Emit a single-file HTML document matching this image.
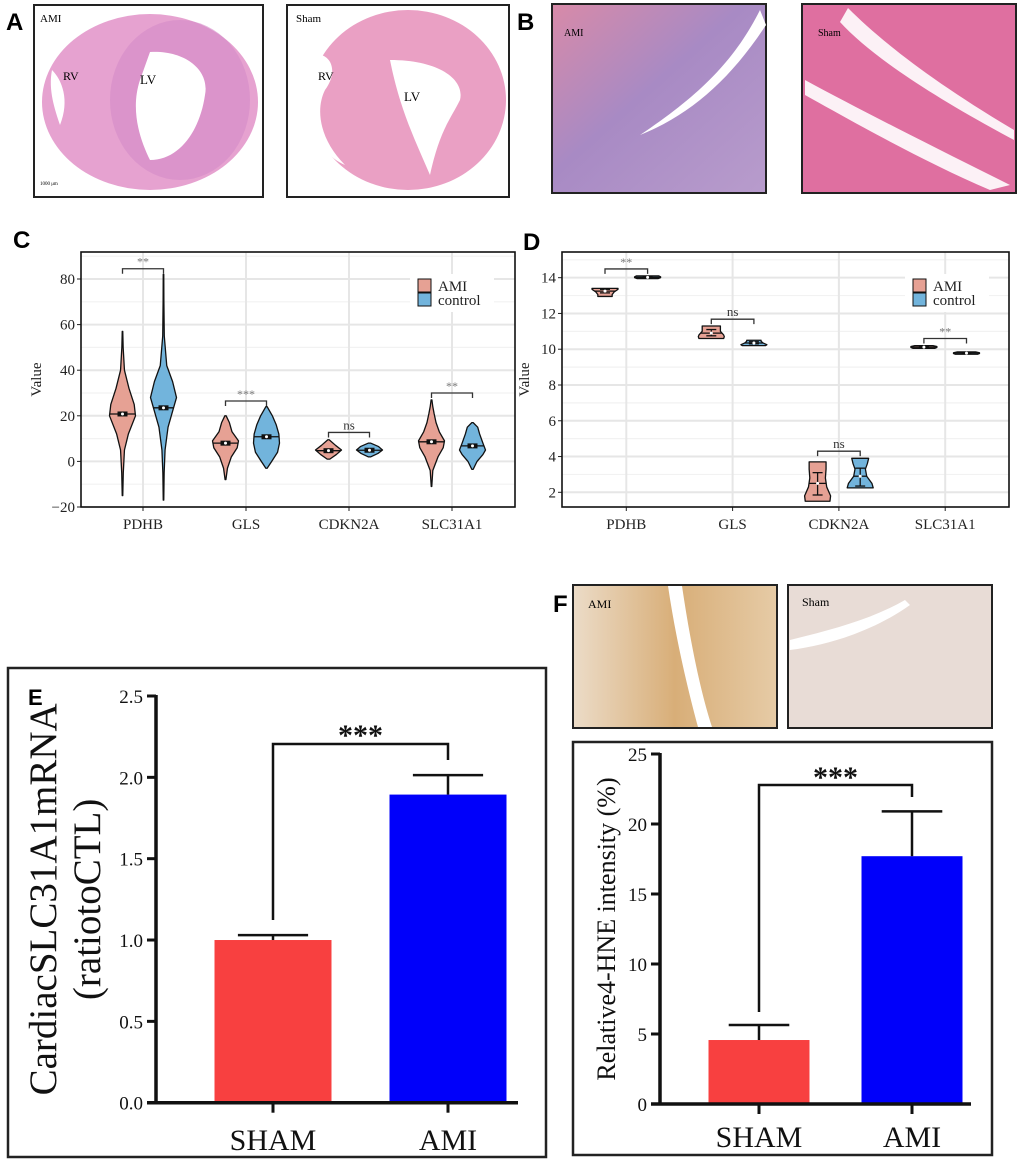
<!DOCTYPE html>
<html><head><meta charset="utf-8"><style>
html,body{margin:0;padding:0;background:#fff}
svg{display:block}
text{font-family:"Liberation Serif",serif}
.lbl{font-family:"Liberation Sans",sans-serif;font-weight:bold}
</style></head><body>
<svg id="fig" width="1020" height="1167" viewBox="0 0 1020 1167" xmlns="http://www.w3.org/2000/svg">
<defs>
<linearGradient id="gB1" x1="0" y1="0" x2="1" y2="1"><stop offset="0" stop-color="#d88aa8"/><stop offset="0.45" stop-color="#a88ac4"/><stop offset="1" stop-color="#b89ccc"/></linearGradient>
<linearGradient id="gF1" x1="0" y1="0" x2="1" y2="0"><stop offset="0" stop-color="#ecdcc8"/><stop offset="0.5" stop-color="#d8ae78"/><stop offset="1" stop-color="#e6cba6"/></linearGradient>
</defs>

<!-- Panel A -->
<g>
<text class="lbl" x="6" y="30" font-size="24">A</text>
<rect x="34" y="5" width="229" height="192" fill="#fff" stroke="#222" stroke-width="2"/>
<ellipse cx="150" cy="102" rx="108" ry="88" fill="#e6a2d0"/>
<ellipse cx="180" cy="100" rx="70" ry="80" fill="#d48ac8" opacity="0.6"/>
<path d="M150 52 C185 50 210 70 205 95 C200 130 180 160 150 160 C140 140 130 110 140 80 Z" fill="#fff"/>
<path d="M52 70 C62 80 70 100 60 125 C55 110 48 90 52 70Z" fill="#fff"/>
<text x="40" y="22" font-size="11">AMI</text>
<text x="63" y="80" font-size="12">RV</text>
<text x="140" y="84" font-size="13">LV</text>
<text x="40" y="185" font-size="5">1000 μm</text>

<rect x="287" y="5" width="222" height="192" fill="#fff" stroke="#222" stroke-width="2"/>
<ellipse cx="408" cy="100" rx="98" ry="90" fill="#eaa0c4"/>
<path d="M390 60 C440 60 465 80 460 100 C450 120 440 130 430 175 C415 140 400 110 390 60Z" fill="#fff"/>
<path d="M310 55 C330 50 340 70 325 90 C315 110 320 140 345 165 C310 150 300 100 310 55Z" fill="#fff"/>
<text x="296" y="22" font-size="11">Sham</text>
<text x="318" y="80" font-size="12">RV</text>
<text x="404" y="101" font-size="13">LV</text>
</g>

<!-- Panel B -->
<g>
<text class="lbl" x="517" y="30" font-size="24">B</text>
<rect x="552" y="4" width="214" height="189" fill="url(#gB1)" stroke="#222" stroke-width="2"/>
<path d="M760 10 L766 25 C730 80 690 115 640 135 C700 95 735 60 760 10Z" fill="#fff"/>
<text x="564" y="36" font-size="10">AMI</text>
<rect x="802" y="4" width="214" height="189" fill="#df6fa0" stroke="#222" stroke-width="2"/>
<path d="M848 8 C880 40 930 80 1014 130 L1014 140 C930 95 870 55 840 22Z" fill="#fff" opacity="0.9"/>
<path d="M805 80 C860 110 940 150 1010 185 L990 190 C920 160 850 120 805 95Z" fill="#fff" opacity="0.9"/>
<text x="818" y="36" font-size="10">Sham</text>
</g>

<g id="panelC">
<text class="lbl" x="13" y="248" font-size="24">C</text>
</g>
<g id="panelD">
<text class="lbl" x="523" y="250" font-size="24">D</text>
</g>

<!-- Panel F images -->
<g>
<rect x="573" y="585" width="204" height="143" fill="url(#gF1)" stroke="#222" stroke-width="2"/>
<path d="M668 586 L682 586 C690 640 700 690 712 727 L698 727 C688 690 676 640 668 586Z" fill="#fff"/>
<text x="588" y="608" font-size="12">AMI</text>
<rect x="788" y="585" width="204" height="143" fill="#e8dcd6" stroke="#222" stroke-width="2"/>
<path d="M790 640 C830 630 870 620 905 600 L910 605 C875 630 830 645 790 650Z" fill="#fff"/>
<text x="802" y="606" font-size="12">Sham</text>
<text class="lbl" x="553" y="612" font-size="24">F</text>
</g>

<g id="panelE">
<rect x="8" y="668" width="538" height="489" fill="none" stroke="#222" stroke-width="2.5"/>
<text class="lbl" x="28" y="705" font-size="22">E</text>
</g>
<g id="panelF">
<rect x="573" y="742" width="419" height="413" fill="none" stroke="#222" stroke-width="2.5"/>
</g>
</svg>
<script>
// ===== Panel C data =====
const genes = ["PDHB","GLS","CDKN2A","SLC31A1"];
const groups = ["AMI","control"];
const cTicks = [-20,0,20,40,60,80];
const cTickLabels = ["\u221220","0","20","40","60","80"];
// violin profiles: value levels & relative density (AMI, control per gene)
const cAmiLevels = [[-15,-5,5,12,20,25,32,40,50,57],[-8,-3,2,6,9,13,17,20],[1,3,5,7,9.5],[-11,-4,2,6,9,13,17,21,24,27]];
const cAmiDens   = [[0.02,0.06,0.15,0.45,1,0.9,0.5,0.15,0.05,0.02],[0.03,0.15,0.45,0.9,1,0.5,0.3,0.05],[0.1,0.6,1,0.55,0.05],[0.02,0.1,0.5,0.9,1,0.6,0.35,0.2,0.1,0.03]];
const cCtlLevels = [[-17,-5,5,15,22,28,35,42,55,70,82],[-3,0,4,8,12,16,20,24],[2,3.5,5,6.5,8],[-3.5,0,3,5,8,12,15,17]];
const cCtlDens   = [[0.02,0.05,0.12,0.35,0.7,1,0.7,0.25,0.06,0.03,0.02],[0.05,0.4,0.85,1,0.95,0.75,0.45,0.05],[0.1,0.65,1,0.7,0.1],[0.05,0.35,0.8,1,0.8,0.55,0.4,0.05]];
const cAmiMedian = [20.8,8.0,4.7,8.6];
const cCtlMedian = [23.5,10.8,4.9,6.8];
const cBracket = [84.5,26.5,12.7,30];
const cSig = ["**","***","ns","**"];

// ===== Panel D data =====
const dTicks = [2,4,6,8,10,12,14];
const dAmiLevels = [[12.95,13.05,13.2,13.35,13.4],[10.6,10.7,10.8,11.0,11.2,11.3],[1.5,1.8,2.3,2.8,3.3,3.7],[10.05,10.1,10.15,10.2]];
const dAmiDens   = [[0.55,0.55,0.7,1,1],[0.95,1,0.95,0.7,0.7,0.7],[0.95,1,0.7,0.6,0.65,0.65],[0.85,1,1,0.7]];
const dCtlLevels = [[13.95,14.0,14.05,14.1],[10.2,10.25,10.35,10.45,10.5],[2.25,2.5,2.9,3.3,3.6,3.9],[9.72,9.76,9.8,9.85]];
const dCtlDens   = [[0.8,1,1,0.85],[0.9,1,0.7,0.55,0.55],[1,0.9,0.5,0.4,0.55,0.65],[0.85,1,1,0.7]];
const dAmiMedian = [13.25,10.9,2.5,10.12];
const dCtlMedian = [14.02,10.35,2.9,9.78];
const dAmiErrLo = [13.15,10.75,1.85,10.1];
const dAmiErrHi = [13.35,11.1,3.1,10.15];
const dCtlErrLo = [13.98,10.3,2.35,9.76];
const dCtlErrHi = [14.06,10.42,3.35,9.8];
const dBracket = [14.49,11.68,4.3,10.6];
const dSig = ["**","ns","ns","**"];

// ===== Panel E/F data =====
const barCats = ["SHAM","AMI"];
const eValues = [1.0,1.894];
const eErr = [0.03,0.12];
const eTicks = [0,0.5,1.0,1.5,2.0,2.5];
const fValues = [4.57,17.7];
const fErr = [1.07,3.2];
const fTicks = [0,5,10,15,20,25];

const NS="http://www.w3.org/2000/svg";
function mk(tag,attrs,parent){const e=document.createElementNS(NS,tag);for(const k in attrs)e.setAttribute(k,attrs[k]);parent.appendChild(e);return e;}

function violinPanel(g,cfg){
  const {x0,x1,y0,y1,vmin,vmax,catX0,catStep,off,ticks,tickLabels,minor,
    amiL,amiD,ctlL,ctlD,amiMed,ctlMed,bracket,sig,legendX,errs} = cfg;
  const ys=v=>y1-(v-vmin)/(vmax-vmin)*(y1-y0);
  const xs=i=>catX0+i*catStep;
  let bg=mk('rect',{x:x0,y:y0,width:x1-x0,height:y1-y0,fill:'#fff'},g);
  
  
  minor.forEach(v=>{let l=mk('line',{x1:x0,x2:x1,y1:ys(v),y2:ys(v),stroke:'#f2f2f2','stroke-width':1.2},g);
    
    });
  ticks.forEach((v,i)=>{let l=mk('line',{x1:x0,x2:x1,y1:ys(v),y2:ys(v),stroke:'#e6e6e6','stroke-width':2},g);
    
    
    mk('line',{x1:x0-4,x2:x0,y1:ys(v),y2:ys(v),stroke:'#222','stroke-width':1},g);
    let t=mk('text',{x:x0-6,y:ys(v)+5,'font-size':15,'text-anchor':'end',fill:'#222'},g);t.textContent=tickLabels[i];
    
    });
  genes.forEach((gn,i)=>{let l=mk('line',{x1:xs(i),x2:xs(i),y1:y0,y2:y1,stroke:'#e6e6e6','stroke-width':2},g);
    
    
    mk('line',{x1:xs(i),x2:xs(i),y1:y1,y2:y1+4,stroke:'#222','stroke-width':1},g);
    let t=mk('text',{x:xs(i),y:y1+22,'font-size':15,'text-anchor':'middle',fill:'#222'},g);t.textContent=gn;
    
    });
  let lb=mk('rect',{x:legendX-8,y:y0+22,width:84,height:38,fill:'#fff'},g);
  
  
  const W=13;
  function violin(cx,L,D,fill,name){
    let p='M'+cx+','+ys(L[0]);
    for(let k=0;k<L.length;k++)p+=' L'+(cx+D[k]*W)+','+ys(L[k]);
    p+=' L'+cx+','+ys(L[L.length-1]);
    for(let k=L.length-1;k>=0;k--)p+=' L'+(cx-D[k]*W)+','+ys(L[k]);
    p+='Z';
    let e=mk('path',{d:p,fill:fill,stroke:'#111','stroke-width':1.3,'stroke-linejoin':'round'},g);
    
    
  }
  function interp(L,D,v){for(let k=0;k<L.length-1;k++){if(v>=L[k]&&v<=L[k+1]){const t=(v-L[k])/(L[k+1]-L[k]);return D[k]+t*(D[k+1]-D[k]);}}return 0.5;}
  genes.forEach((gn,i)=>{
    const ca=xs(i)-off, cc=xs(i)+off;
    violin(ca,amiL[i],amiD[i],'#e6a194','violin-ami-'+gn.toLowerCase());
    violin(cc,ctlL[i],ctlD[i],'#72b4dc','violin-control-'+gn.toLowerCase());
    [[ca,amiMed[i],amiL[i],amiD[i],0],[cc,ctlMed[i],ctlL[i],ctlD[i],1]].forEach(([cx,m,L,D,gi])=>{
      const hw=interp(L,D,m)*W;
      let ml=mk('line',{x1:cx-hw,x2:cx+hw,y1:ys(m),y2:ys(m),stroke:'#111','stroke-width':1.3},g);
      
      
      if(errs){const lo=errs[gi*2][i],hi=errs[gi*2+1][i];
        mk('line',{x1:cx,x2:cx,y1:ys(lo),y2:ys(hi),stroke:'#111','stroke-width':1.3},g);
        mk('line',{x1:cx-5,x2:cx+5,y1:ys(lo),y2:ys(lo),stroke:'#111','stroke-width':1.3},g);
        mk('line',{x1:cx-5,x2:cx+5,y1:ys(hi),y2:ys(hi),stroke:'#111','stroke-width':1.3},g);
      } else {
        mk('rect',{x:cx-5,y:ys(m)-2.5,width:10,height:5,fill:'#111'},g);
      }
      mk('circle',{cx:cx,cy:ys(m),r:1.5,fill:'#fff'},g);
    });
    const by=ys(bracket[i]);
    let br=mk('path',{d:`M${ca},${by+5} L${ca},${by} L${cc},${by} L${cc},${by+5}`,fill:'none',stroke:'#333','stroke-width':1.3},g);
    
    
    let st=mk('text',{x:xs(i),y:by-3,'font-size':sig[i]=='ns'?13:12,'text-anchor':'middle',fill:sig[i]=='ns'?'#333':'#777'},g);
    st.textContent=sig[i];
    
    
  });
  let fr=mk('rect',{x:x0,y:y0,width:x1-x0,height:y1-y0,fill:'none',stroke:'#111','stroke-width':1.6},g);
  
  
  groups.forEach((gr,k)=>{
    let r=mk('rect',{x:legendX,y:y0+27+k*14,width:13,height:13,fill:k?'#72b4dc':'#e6a194',stroke:'#111','stroke-width':1},g);
    
    
    let t=mk('text',{x:legendX+20,y:y0+39+k*14,'font-size':15,fill:'#222'},g);t.textContent=gr;
    
    
  });
  let yl=mk('text',{x:cfg.ylabX,y:(y0+y1)/2,'font-size':15,'text-anchor':'middle',fill:'#222',transform:`rotate(-90 ${cfg.ylabX} ${(y0+y1)/2})`},g);
  yl.textContent='Value';
  
  
}

violinPanel(document.getElementById('panelC'),{x0:81,x1:515,y0:252,y1:507,vmin:-20,vmax:80+(80-(-20))*((279-252)/(507-279)),
  catX0:143,catStep:103,off:20.5,ticks:cTicks,tickLabels:cTickLabels,minor:[-10,10,30,50,70,90],
  amiL:cAmiLevels,amiD:cAmiDens,ctlL:cCtlLevels,ctlD:cCtlDens,amiMed:cAmiMedian,ctlMed:cCtlMedian,
  bracket:cBracket,sig:cSig,legendX:418,ylabX:41,errs:null});

violinPanel(document.getElementById('panelD'),{x0:562,x1:1009,y0:252,y1:507,vmin:2-(507-492.3)/17.9,vmax:14+(277.7-252)/17.9,
  catX0:626.3,catStep:106.3,off:21.3,ticks:dTicks,tickLabels:dTicks.map(String),minor:[3,5,7,9,11,13,15],
  amiL:dAmiLevels,amiD:dAmiDens,ctlL:dCtlLevels,ctlD:dCtlDens,amiMed:dAmiMedian,ctlMed:dCtlMedian,
  bracket:dBracket,sig:dSig,legendX:913,ylabX:529,errs:[dAmiErrLo,dAmiErrHi,dCtlErrLo,dCtlErrHi]});

function barPanel(g,cfg){
  const {ax,axEnd,yTop,yBot,vmax,cx,bw,vals,errs,ticks,fmt,brY,brL,brR,starY,labY,ylab,ylabX,ylabSize}=cfg;
  const ys=v=>yBot-v/vmax*(yBot-yTop);
  const colors=['#f84040','#0000fa'];
  vals.forEach((v,i)=>{
    let r=mk('rect',{x:cx[i]-bw/2,y:ys(v),width:bw,height:yBot-ys(v),fill:colors[i]},g);
    
    
    mk('line',{x1:cx[i],x2:cx[i],y1:ys(v),y2:ys(v+errs[i]),stroke:'#111','stroke-width':2.5},g);
    let e=mk('line',{x1:cx[i]-bw*0.3,x2:cx[i]+bw*0.3,y1:ys(v+errs[i]),y2:ys(v+errs[i]),stroke:'#111','stroke-width':2.5},g);
    
    
    mk('line',{x1:cx[i],x2:cx[i],y1:yBot,y2:yBot+10,stroke:'#111','stroke-width':3},g);
    let t=mk('text',{x:cx[i],y:labY,'font-size':30,'text-anchor':'middle',fill:'#111'},g);t.textContent=barCats[i];
    
    
  });
  let ya=mk('line',{x1:ax,x2:ax,y1:yTop-1,y2:yBot+1.5,stroke:'#111','stroke-width':3.5},g);
  
  
  let xa=mk('line',{x1:ax-9,x2:axEnd,y1:yBot,y2:yBot,stroke:'#111','stroke-width':3.5},g);
  
  
  ticks.forEach(v=>{
    mk('line',{x1:ax-9,x2:ax,y1:ys(v),y2:ys(v),stroke:'#111','stroke-width':3},g);
    let t=mk('text',{x:ax-13,y:ys(v)+7,'font-size':19,'text-anchor':'end',fill:'#111'},g);t.textContent=fmt(v);
    
    
  });
  let b=mk('path',{d:`M${cx[0]},${brL} L${cx[0]},${brY} L${cx[1]},${brY} L${cx[1]},${brR}`,fill:'none',stroke:'#111','stroke-width':2.5},g);
  
  
  let s=mk('text',{x:(cx[0]+cx[1])/2,y:starY,'font-size':30,'text-anchor':'middle','font-weight':'bold',fill:'#111'},g);s.textContent='***';
  
  
  const mid=(yTop+yBot)/2;
  ylab.forEach((line,k)=>{
    const x=ylabX[k];
    let t=mk('text',{x:x,y:mid,'font-size':ylabSize,'text-anchor':'middle',fill:'#111',transform:`rotate(-90 ${x} ${mid})`},g);
    t.textContent=line;
    
    
  });
}
barPanel(document.getElementById('panelE'),{ax:156,axEnd:518,yTop:696,yBot:1102.7,vmax:2.5,cx:[273,448],bw:117,
  vals:eValues,errs:eErr,ticks:eTicks,fmt:v=>v.toFixed(1),brY:744,brL:920,brR:760,starY:745,labY:1150,
  ylab:['CardiacSLC31A1mRNA','(ratiotoCTL)'],ylabX:[56,100],ylabSize:39});
barPanel(document.getElementById('panelF'),{ax:660,axEnd:971,yTop:754,yBot:1104,vmax:25,cx:[759,912],bw:101,
  vals:fValues,errs:fErr,ticks:fTicks,fmt:v=>String(v),brY:785,brL:1012,brR:797,starY:787,labY:1147,
  ylab:['Relative4-HNE intensity (%)'],ylabX:[615],ylabSize:26});
</script>
</body></html>
